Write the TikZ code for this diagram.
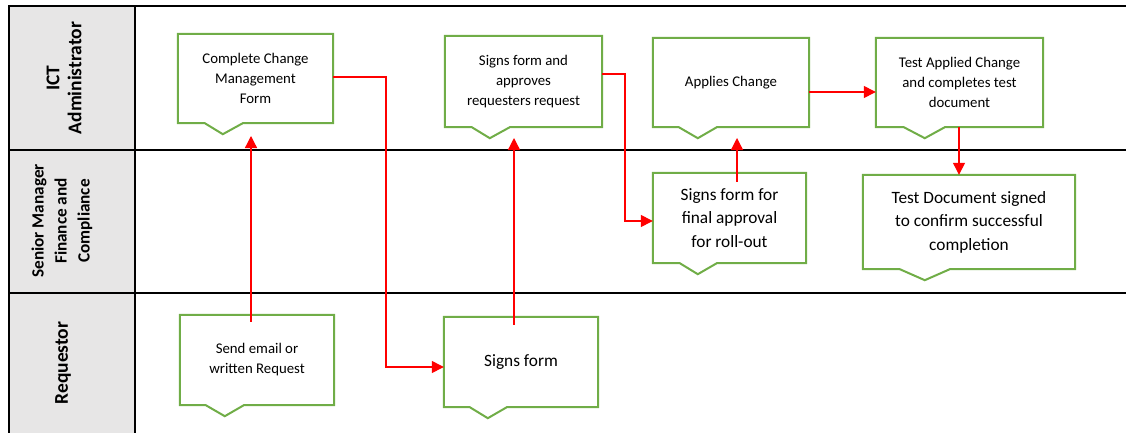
\documentclass[tikz,border=0pt]{standalone}
\usepackage{fontspec}
\setmainfont{Carlito}
\usetikzlibrary{arrows.meta,calc}

\definecolor{lanegray}{HTML}{E7E6E6}
\definecolor{boxgreen}{HTML}{70AD47}
\definecolor{flowred}{HTML}{FF0000}

\tikzset{
  frame/.style={line width=2pt,black},
  task/.style={rectangle,draw=none,align=center,inner sep=0pt},
  small/.style={font=\fontsize{14.8}{20}\selectfont},
  large/.style={font=\fontsize{17.3}{23.5}\selectfont},
  lanelabel/.style={rotate=90,align=center,inner sep=0pt,font=\bfseries\fontsize{19.5}{22}\selectfont},
  outline/.style={draw=boxgreen,line width=2pt,line join=miter},
  flow/.style={draw=flowred,line width=1.3pt,-{Triangle[length=12pt,width=12pt]}},
}

% green task outline with a wedge on its lower edge:
% #1 node, #2 wedge start, #3 wedge tip, #4 wedge end (offsets from the left side)
\newcommand\taskoutline[4]{%
  \draw[outline] (#1.north west) -- (#1.north east) -- (#1.south east)
    -- ([xshift=#4]#1.south west) -- ([xshift=#3,yshift=-11pt]#1.south west)
    -- ([xshift=#2]#1.south west) -- (#1.south west) -- cycle;}

\begin{document}
\begin{tikzpicture}[x=1pt,y=-1pt]
\useasboundingbox (0,0) rectangle (1126,433);

% swimlane frame
\fill[lanegray] (9,6) rectangle (135,433);
\draw[frame] (9,433) -- (9,6) -- (1126,6);
\draw[frame] (9,150) -- (1126,150);
\draw[frame] (9,293) -- (1126,293);
\draw[frame] (135,6) -- (135,433);

\node[lanelabel] (laneA) at (64,78) {ICT\\Administrator};
\node[lanelabel,font=\bfseries\fontsize{17.2}{23}\selectfont] (laneB) at (62,221) {Senior Manager\\Finance and\\Compliance};
\node[lanelabel] (laneC) at (63,363) {Requestor};

% tasks
\node[task,small,minimum width=155pt,minimum height=89pt] (form) at (255.5,78.5) {Complete Change\\Management\\Form};
\node[task,small,minimum width=157pt,minimum height=91pt] (approve) at (523.5,81.5) {Signs form and\\approves\\requesters request};
\node[task,small,minimum width=156pt,minimum height=89pt] (apply) at (731,82.5) {Applies Change};
\node[task,small,minimum width=167pt,minimum height=89pt] (test) at (959.5,82.5) {Test Applied Change\\and completes test\\document};
\node[task,large,minimum width=153pt,minimum height=90pt] (final) at (729.5,218) {Signs form for\\final approval\\for roll-out};
\node[task,large,minimum width=212pt,minimum height=94pt] (signed) at (969,222) {Test Document signed\\to confirm successful\\completion};
\node[task,small,minimum width=154pt,minimum height=90pt] (email) at (257,360) {Send email or\\written Request};
\node[task,large,minimum width=154pt,minimum height=90pt] (reqsign) at (521,362) {Signs form};

\taskoutline{form}{27pt}{45pt}{65pt}
\taskoutline{approve}{27pt}{45pt}{65pt}
\taskoutline{apply}{26pt}{45pt}{64pt}
\taskoutline{test}{28pt}{49pt}{69pt}
\taskoutline{final}{27pt}{45pt}{64pt}
\taskoutline{signed}{37pt}{62pt}{87pt}
\taskoutline{email}{26pt}{45pt}{64pt}
\taskoutline{reqsign}{26pt}{44pt}{63pt}

% flow connectors
\coordinate (emailTip) at (251,136);
\draw[flow] ([xshift=-6pt,yshift=-7pt]email.north) -- (emailTip);
\draw[flow] (form.east |- 0,77) -| (386,367) -- (reqsign.west |- 0,367);
\coordinate (reqTip) at (514,138);
\draw[flow] ([xshift=-7pt,yshift=-8pt]reqsign.north) -- (reqTip);
\draw[flow] (approve.east |- 0,74) -| (625,221) -- (final.west |- 0,221);
\coordinate (finalTip) at (737,138);
\draw[flow] ([xshift=7.5pt,yshift=-9pt]final.north) -- (finalTip);
\draw[flow] (apply.east |- 0,92) -- (test.west |- 0,92);
\draw[flow] (959,127) -- (signed.north -| 959,0);
\end{tikzpicture}
\end{document}
